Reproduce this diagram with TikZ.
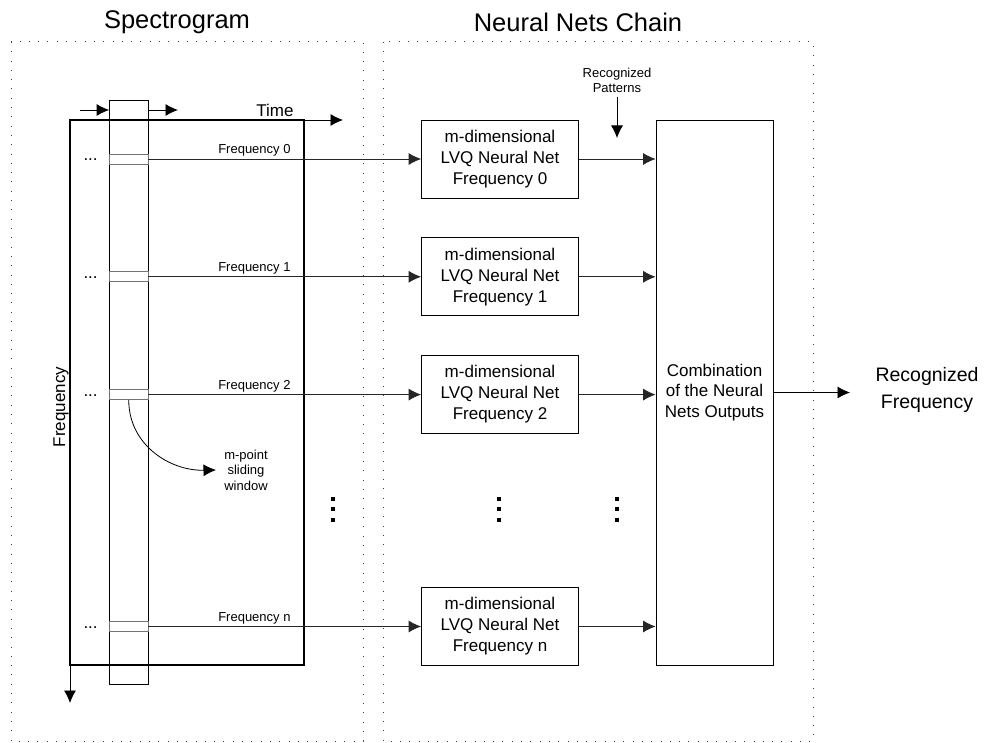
\documentclass[tikz,border=0pt]{standalone}
\usepackage{fontspec}
\setmainfont{Liberation Sans}
\usepackage{tikz}
\usetikzlibrary{positioning}
\usetikzlibrary{arrows.meta}
\tikzset{
    lvq chain/.style={
            x=1pt,y=-1pt,line width=0.8pt,
            arrow/.style={-{Latex[length=12.5pt,width=12pt]}},
            frame/.style={draw=black!75,line width=1pt,dash pattern=on 1pt off 8.3pt},
            netbox/.style={draw,minimum width=157pt,minimum height=78pt,inner sep=0pt,
                align=center,font=\fontsize{17}{21}\selectfont},
            cell/.style={draw=black!55,minimum width=38.5pt,minimum height=10pt,inner sep=0pt},
            small/.style={font=\fontsize{13}{15.6}\selectfont,align=center},
            title/.style={font=\fontsize{25.5}{30}\selectfont}
        }
    }

\begin{document}
\begin{tikzpicture}[lvq chain]
                \useasboundingbox (0,0) rectangle (987,743);
                % frames and titles
                \draw [frame] (11,42) rectangle (363,741);
                \draw [frame] (383,42) rectangle (813,741);
                \node [title] (spectitle) at (177,22) {Spectrogram};
                \node [title] (chaintitle) at (578,22) {Neural Nets Chain};
                % spectrogram with the sliding window
                \node (win) [draw,minimum width=38.5pt,minimum height=584pt,inner sep=0pt] at (128.75,392) {};
                \node (spec) [draw,line width=2.2pt,outer sep=0pt,minimum width=234pt,minimum height=545pt,inner sep=0pt] at (187,392.5) {};
                \coordinate (slidein) at (80,110);
                \coordinate (slideout) at (178,110);
                \draw [arrow] (slidein) -- (win.west |- slidein);
                \draw [arrow] (win.east |- slidein) -- (slideout);
                \coordinate (timeend) at (343,120);
                \draw [arrow] (spec.north east) -- (timeend);
                \node [font=\fontsize{17}{20}\selectfont] (time) at (275,110) {Time};
                \coordinate (freqend) at (70,703);
                \draw [arrow] (spec.south west) -- (freqend);
                \node [font=\fontsize{17}{20}\selectfont,rotate=90] (freq) at (61,407) {Frequency};
                % one net per frequency row
                \node [netbox] (lvq0) at (500,159) {m-dimensional\\LVQ Neural Net\\Frequency 0};
                \node [netbox,below=39pt of lvq0] (lvq1) {m-dimensional\\LVQ Neural Net\\Frequency 1};
                \node [netbox,below=39pt of lvq1] (lvq2) {m-dimensional\\LVQ Neural Net\\Frequency 2};
                \node [netbox] (lvqn) at (500,626.5) {m-dimensional\\LVQ Neural Net\\Frequency n};
                \node [draw,minimum width=117pt,minimum height=545pt,inner sep=0pt,align=center,
                    font=\fontsize{17}{20.5}\selectfont] (comb) at (714.5,392.5) {Combination\\of the Neural\\Nets Outputs};
                \foreach \r/\k in {0/0,1/1,2/2,n/n} {
                    \node [cell] (cell\r) at (win.center |- lvq\r) {};
                    \node [font=\fontsize{17}{20}\selectfont,anchor=base] at ([xshift=-18.5pt,yshift=-2pt]cell\r.west) {...};
                    \draw [arrow,black!85] (cell\r.east) -- (lvq\r.west)
                        node [small,pos=0.53,above left,inner sep=2pt,black] {Frequency \k};
                    \draw [arrow,black!85] (lvq\r.east) -- (comb.west |- lvq\r);
                }
                % sliding window note
                \node [small,outer sep=5pt] (winlbl) at (246,470) {m-point\\sliding\\window};
                \draw [arrow] (cell2.south) .. controls (128.75,445) and (170,471) .. (winlbl.west);
                % recognized patterns and output
                \node [small] (pat) at (617,80.5) {Recognized\\Patterns};
                \coordinate (patend) at (617,138);
                \draw [arrow] (pat.south) -- (patend);
                \coordinate (outend) at (850,392.5);
                \draw [arrow] (comb.east) -- (outend);
                \node [font=\fontsize{19.5}{26.5}\selectfont,align=center] (out) at (927,390) {Recognized\\Frequency};
                % vertical dots
                \foreach \x in {333,499,617}
                    \foreach \y in {498.5,509,519.5}
                        \fill (\x-2,\y-2) rectangle (\x+2,\y+2);
            \end{tikzpicture}
\end{document}
